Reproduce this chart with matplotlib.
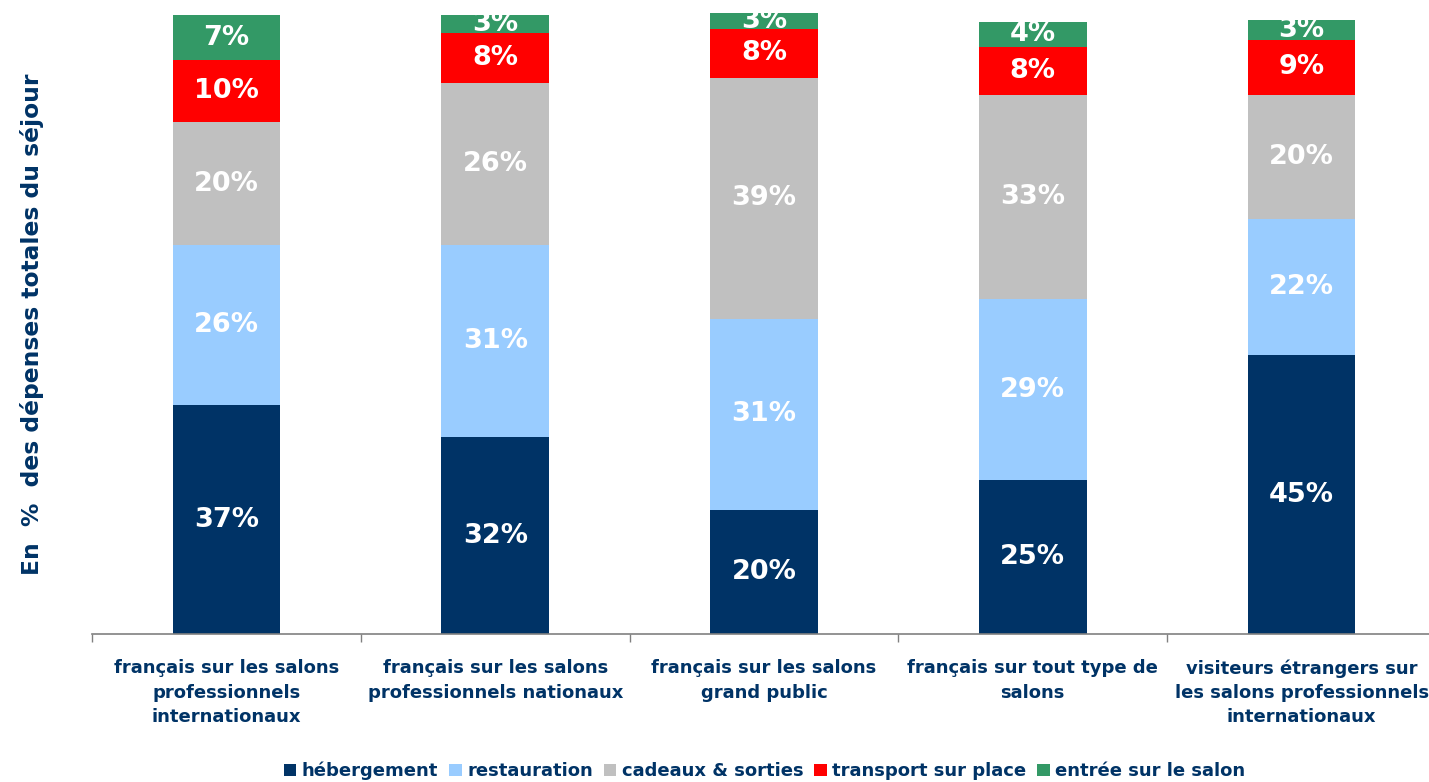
import numpy as np
from matplotlib import pyplot as plt

# categories (x axis)
categories = [
    "français sur les salons\nprofessionnels\ninternationaux",
    "français sur les salons\nprofessionnels nationaux",
    "français sur les salons\ngrand public",
    "français sur tout type de\nsalons",
    "visiteurs étrangers sur\nles salons professionnels\ninternationaux",
]

# share of total spending, in %
hebergement = [37.0, 31.8, 20.0, 24.9, 45.1]
restauration = [25.8, 31.0, 31.0, 29.2, 22.0]
cadeaux = [20.0, 26.2, 38.9, 33.0, 20.0]
transport = [9.9, 8.1, 7.9, 7.8, 8.9]
entree = [7.3, 2.9, 2.6, 4.0, 3.2]

series_names = ["hébergement", "restauration", "cadeaux & sorties",
                "transport sur place", "entrée sur le salon"]
series_colors = ["#003366", "#99CCFF", "#C0C0C0", "#FF0000", "#339966"]
text_color = "#003366"

plt.rcParams['font.family'] = ['DejaVu Sans']

fig = plt.figure(figsize=(14.29, 7.82), dpi=100)
ax = fig.add_axes([0.0644, 0.189, 0.9405, 0.7995])

x = np.arange(len(categories))
bottom = np.zeros(len(categories))
all_series = [hebergement, restauration, cadeaux, transport, entree]
for values, name, color in zip(all_series, series_names, series_colors):
    values = np.array(values)
    ax.bar(x, values, width=0.4, bottom=bottom, color=color, label=name)
    for xi, b, v in zip(x, bottom, values):
        ax.text(xi, b + v / 2, f"{v:.0f}%", ha='center', va='center',
                color='white', fontsize=19.5, fontweight='bold')
    bottom += values

ax.set_xlim(-0.5, len(categories) - 0.5)
ax.set_ylim(0, 101)

# axis styling: only a grey bottom line with ticks between categories
for side in ['left', 'right', 'top']:
    ax.spines[side].set_visible(False)
ax.spines['bottom'].set_color('#808080')
ax.spines['bottom'].set_linewidth(1.2)
ax.set_yticks([])
ax.set_xticks(np.arange(len(categories) + 1) - 0.5)
ax.set_xticklabels([])
ax.tick_params(axis='x', direction='out', length=6, color='#808080', width=1)
ax.set_xticks(x, minor=True)
ax.set_xticklabels(categories, minor=True, fontsize=13, fontweight='bold',
                   color=text_color, linespacing=1.45)
ax.tick_params(axis='x', which='minor', length=0, pad=18)

ax.set_ylabel("En  %  des dépenses totales du séjour", fontsize=16.8,
              fontweight='bold', color=text_color)
ax.yaxis.set_label_coords(-0.036, 0.495)

leg = fig.legend(loc='center', bbox_to_anchor=(0.535, 0.014), ncol=5,
                 frameon=False, fontsize=13, handlelength=0.7, handleheight=0.7,
                 handletextpad=0.3, columnspacing=0.6, borderaxespad=0)
for t in leg.get_texts():
    t.set_color(text_color)
    t.set_fontweight('bold')

fig.savefig("out.png", dpi=100)
